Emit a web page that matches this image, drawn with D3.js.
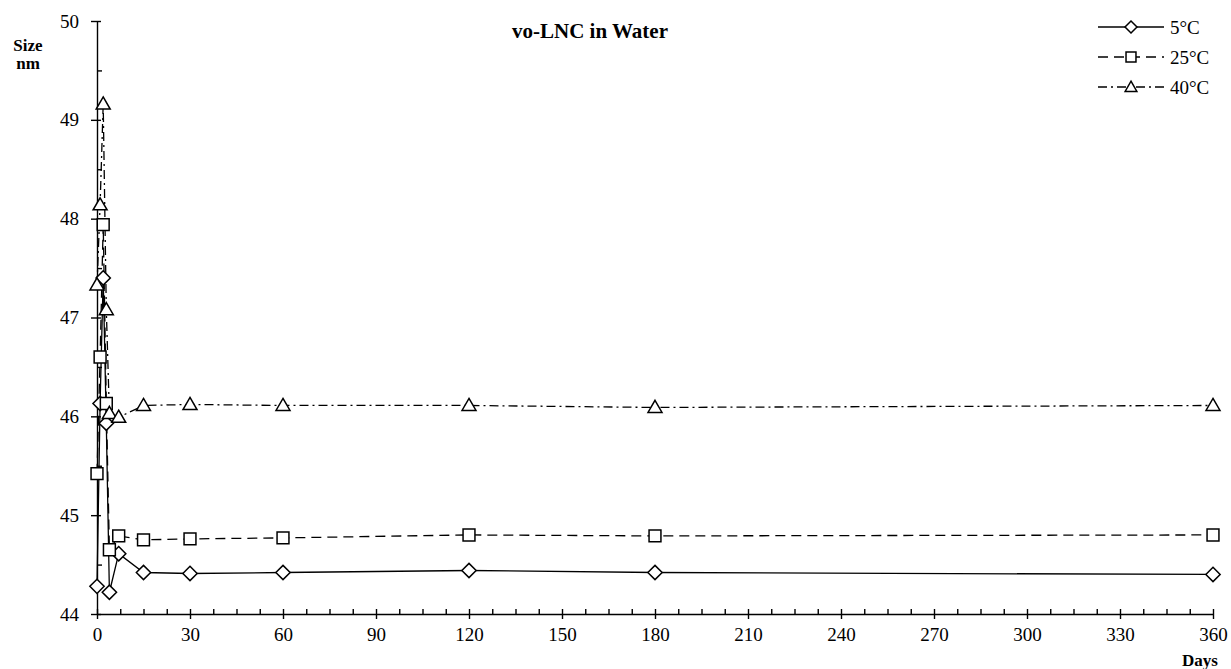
<!DOCTYPE html>
<html>
<head>
    <meta charset="utf-8">
    <title>vo-LNC in Water</title>
    <script src="https://d3js.org/d3.v7.min.js"></script>
    <style>
        body { margin: 0; background: #fff; }
        svg text { font-family: "Liberation Serif", "Times New Roman", serif !important; fill: #000; }
        .axis path, .axis line { stroke: #000; stroke-width: 1.4px; }
        .axis text { font-size: 19px; }
        .lbl { font-weight: bold; }
    </style>
</head>
<body>
<script>
    // Data
    const days = [0, 1, 2, 3, 4, 7, 15, 30, 60, 120, 180, 360];
    const series = ["5\u00B0C", "25\u00B0C", "40\u00B0C"];
    const size5 = [44.28, 46.13, 47.40, 45.93, 44.22, 44.61, 44.42, 44.41, 44.42, 44.44, 44.42, 44.40];
    const size25 = [45.42, 46.60, 47.94, 46.13, 44.65, 44.79, 44.75, 44.76, 44.77, 44.80, 44.79, 44.80];
    const size40 = [47.33, 48.14, 49.16, 47.08, 46.03, 45.99, 46.11, 46.12, 46.11, 46.11, 46.09, 46.11];
    const xTicks = d3.range(0, 361, 30);
    const yTicks = [44, 45, 46, 47, 48, 49, 50];

    const W = 1231, H = 669;
    const svg = d3.select("body").append("svg")
        .attr("width", W).attr("height", H);

    const x = d3.scaleLinear().domain([0, 360]).range([97, 1213]);
    const y = d3.scaleLinear().domain([44, 50]).range([614, 21]);

    // x axis: major ticks cross the line, minor ticks point up
    const xMinor = d3.range(0, 361, 7.5).filter(d => d % 30 !== 0);
    svg.append("g").attr("class", "axis")
        .attr("transform", `translate(0,${y(44)})`)
        .call(d3.axisBottom(x).tickValues(xMinor).tickSize(-5).tickSizeOuter(0).tickFormat(""));
    const gx = svg.append("g").attr("class", "axis")
        .attr("transform", `translate(0,${y(44)})`)
        .call(d3.axisBottom(x).tickValues(xTicks).tickSize(5).tickSizeOuter(0).tickPadding(9));
    gx.select(".domain").remove();
    gx.selectAll(".tick line").attr("y1", -5);

    // y axis
    const yMinor = d3.range(44.5, 50, 1);
    svg.append("g").attr("class", "axis")
        .attr("transform", `translate(${x(0)},0)`)
        .call(d3.axisLeft(y).tickValues(yMinor).tickSize(-5).tickSizeOuter(0).tickFormat(""));
    const gy = svg.append("g").attr("class", "axis")
        .attr("transform", `translate(${x(0)},0)`)
        .call(d3.axisLeft(y).tickValues(yTicks).tickSize(6).tickSizeOuter(0).tickPadding(12).tickFormat(d3.format("d")));
    gy.select(".domain").remove();
    gy.selectAll(".tick line").attr("x1", 4);

    // labels
    svg.append("text").attr("class", "lbl").attr("x", 590).attr("y", 38)
        .attr("text-anchor", "middle").style("font-size", "21px").text("vo-LNC in Water");
    svg.append("text").attr("class", "lbl").attr("x", 28).attr("y", 51)
        .attr("text-anchor", "middle").style("font-size", "17px").text("Size");
    svg.append("text").attr("class", "lbl").attr("x", 28).attr("y", 69)
        .attr("text-anchor", "middle").style("font-size", "17px").text("nm");
    svg.append("text").attr("class", "lbl").attr("x", 1200).attr("y", 666)
        .attr("text-anchor", "middle").style("font-size", "17px").text("Days");

    const dashes = ["none", "10,6", "9,4,2,4"];
    const shapes = [d3.symbolDiamond2, d3.symbolSquare2, d3.symbolTriangle2];
    const shapeSize = [130, 180, 140];
    const values = [size5, size25, size40];

    const line = d3.line().x(d => x(d[0])).y(d => y(d[1]));

    values.forEach((vals, i) => {
        const pts = days.map((d, j) => [d, vals[j]]);
        svg.append("path")
            .datum(pts)
            .attr("d", line)
            .attr("fill", "none")
            .attr("stroke", "#000")
            .attr("stroke-width", 1.3)
            .attr("stroke-dasharray", dashes[i]);
    });

    values.forEach((vals, i) => {
        const sym = d3.symbol().type(shapes[i]).size(shapeSize[i]);
        svg.append("g").selectAll("path")
            .data(days.map((d, j) => [d, vals[j]]))
            .join("path")
            .attr("d", sym)
            .attr("transform", d => `translate(${x(d[0])},${y(d[1]) + (i === 2 ? 1 : 0)})`)
            .attr("fill", "#fff")
            .attr("stroke", "#000")
            .attr("stroke-width", 1.5);
    });

    // legend
    const legend = svg.append("g").attr("transform", "translate(1098,27)");
    series.forEach((s, i) => {
        const row = legend.append("g").attr("transform", `translate(0,${i * 30})`);
        row.append("line").attr("x1", 0).attr("x2", 66).attr("y1", 0).attr("y2", 0)
            .attr("stroke", "#000").attr("stroke-width", 1.3)
            .attr("stroke-dasharray", dashes[i]);
        row.append("path")
            .attr("d", d3.symbol().type(shapes[i]).size(shapeSize[i] * 0.7))
            .attr("transform", `translate(33,${i === 2 ? 1 : 0})`)
            .attr("fill", "#fff").attr("stroke", "#000").attr("stroke-width", 1.5);
        row.append("text").attr("x", 72).attr("y", 0).attr("dy", "0.35em")
            .style("font-size", "19px").text(s);
    });
</script>
</body>
</html>
